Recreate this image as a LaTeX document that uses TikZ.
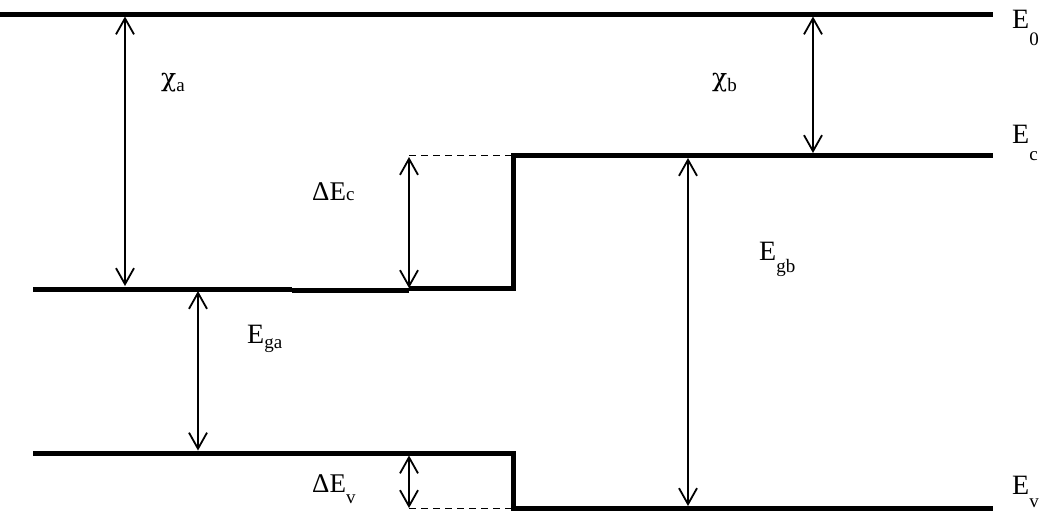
\documentclass[tikz,border=0pt]{standalone}
\usepackage{fontspec}
\setmainfont{Liberation Serif}
\newfontfamily\grk{DejaVu Serif}
\usetikzlibrary{arrows.meta}
\newcommand{\lsub}[2]{\raisebox{-#1pt}{\fontsize{19}{19}\selectfont #2}}
\tikzset{
  level/.style={line width=5pt, line cap=butt, line join=miter},
  gap/.style={line width=1.5pt, {Straight Barb[length=16pt,width=18pt,line width=1.8pt]}-{Straight Barb[length=16pt,width=18pt,line width=1.8pt]}},
  guide/.style={line width=1.3pt, dash pattern=on 7pt off 5pt},
  lbl/.style={anchor=base west, inner sep=0pt, font=\fontsize{28}{28}\selectfont},
}
\begin{document}
\begin{tikzpicture}[x=1pt,y=-1pt]
\useasboundingbox (0,0) rectangle (1044,512);
% level end points
\coordinate (v0L) at (0,14);
\coordinate (v0R) at (993,14);
\coordinate (caL) at (33,289);
\coordinate (caM1) at (292,289);
\coordinate (caM2) at (292,290.5);
\coordinate (caM3) at (409,290.5);
\coordinate (caM4) at (409,288);
\coordinate (caR) at (513,288);
\coordinate (cbL) at (513,155.5);
\coordinate (cbR) at (993,155.5);
\coordinate (vaL) at (33,453);
\coordinate (vaR) at (513,453);
\coordinate (vbL) at (513,508.5);
\coordinate (vbR) at (993,508.5);
\coordinate (dc) at (409,155.5);
\coordinate (dv) at (409,508.5);
% levels
\draw[level] (v0L) -- (v0R);
\draw[level] (caL) -- (caM1);
\draw[level] (caM2) -- (caM3);
\draw[level] (caM4) -- (caR) -- (cbL) -- (cbR);
\draw[level] (vaL) -- (vaR) -- (vbL) -- (vbR);
% dashed guides
\draw[guide] (dc) -- (cbL);
\draw[guide] (dv) -- (vbL);
% arrow end points
\coordinate (xaT) at (125,16.5);
\coordinate (xaB) at (125,286);
\coordinate (xbT) at (813,16.5);
\coordinate (xbB) at (813,153);
\coordinate (dcT) at (409,157);
\coordinate (dcB) at (409,288);
\coordinate (gaT) at (198,291);
\coordinate (gaB) at (198,450.5);
\coordinate (gbT) at (688,158);
\coordinate (gbB) at (688,506);
\coordinate (dvT) at (409,455.5);
\coordinate (dvB) at (409,508);
\draw[gap] (xaT) -- (xaB);
\draw[gap] (xbT) -- (xbB);
\draw[gap] (dcT) -- (dcB);
\draw[gap] (gaT) -- (gaB);
\draw[gap] (gbT) -- (gbB);
\draw[gap] (dvT) -- (dvB);
% labels
\node[lbl] (lE0) at (1012,28) {E\lsub{17}{0}};
\node[lbl] (lEc) at (1012,143) {E\lsub{17}{c}};
\node[lbl] (lEv) at (1012,494) {E\lsub{13}{v}};
\node[lbl] (lEgb) at (759,260) {E\lsub{12}{gb}};
\node[lbl] (lEga) at (247,343) {E\lsub{5}{ga}};
\node[lbl, font=\fontsize{27}{27}\selectfont] (ldEc) at (312,200) {ΔE\lsub{0}{c}};
\node[lbl, font=\fontsize{27}{27}\selectfont] (ldEv) at (312,492) {ΔE\lsub{11}{v}};
\node[lbl, font=\fontsize{25}{25}\selectfont] (lxa) at (161,86) {{\grk χ}\lsub{5}{a}};
\node[lbl, font=\fontsize{25}{25}\selectfont] (lxb) at (712,86) {{\grk χ}\lsub{5}{b}};
\end{tikzpicture}
\end{document}
